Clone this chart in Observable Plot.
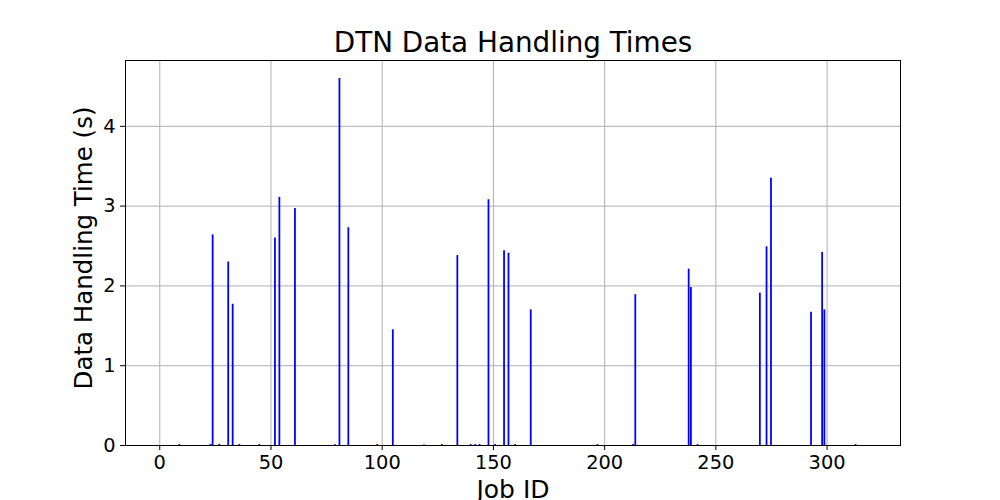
<!DOCTYPE html>
<html><head>
<meta charset="utf-8">
<script src="https://cdn.jsdelivr.net/npm/d3@7"></script>
<script src="https://cdn.jsdelivr.net/npm/@observablehq/plot@0.6"></script>
<style>
body{margin:0;background:#fff}
svg{font-family:"DejaVu Sans",sans-serif}
</style>
</head><body><div id="chart"></div>
<script>
const jobIds = [9, 23, 24, 27, 31, 33, 36, 45, 52, 54, 61, 79, 81, 85, 98, 105, 119, 127, 134, 140, 142, 144, 148, 151, 155, 157, 160, 167, 197, 213, 214, 238, 239, 242, 270, 273, 275, 293, 298, 299, 313];
const handlingTimes = [0.012, 0.015, 2.64, 0.015, 2.30, 1.77, 0.012, 0.012, 2.60, 3.11, 2.97, 0.01, 4.60, 2.73, 0.012, 1.45, 0.006, 0.012, 2.38, 0.012, 0.012, 0.012, 3.08, 0.012, 2.44, 2.41, 0.012, 1.70, 0.012, 0.012, 1.89, 2.21, 1.98, 0.012, 1.91, 2.49, 3.35, 1.67, 2.42, 1.70, 0.012];
const xTicks = [0, 50, 100, 150, 200, 250, 300];
const yTicks = [0, 1, 2, 3, 4];
const titleText = "DTN Data Handling Times";
const xLabel = "Job ID";
const yLabel = "Data Handling Time (s)";
const barWidth = 0.8;

const data = jobIds.map((id, i) => ({id, t: handlingTimes[i]}));

const chart = Plot.plot({
  width: 1000,
  height: 500,
  marginLeft: 125,
  marginRight: 100,
  marginTop: 60,
  marginBottom: 55,
  style: {fontFamily: "DejaVu Sans", fontSize: "19.4px", background: "white", color: "black"},
  x: {domain: [-15.4, 333], label: null},
  y: {domain: [0, 4.825], label: null},
  marks: [
    Plot.gridX(xTicks, {stroke: "#b0b0b0", strokeOpacity: 1, strokeWidth: 1}),
    Plot.gridY(yTicks, {stroke: "#b0b0b0", strokeOpacity: 1, strokeWidth: 1}),
    Plot.rectY(data, {x1: d => d.id - barWidth / 2, x2: d => d.id + barWidth / 2, y1: 0, y2: "t", fill: "blue", inset: 0}),
    Plot.frame({stroke: "black", strokeWidth: 1}),
    Plot.axisX(xTicks, {tickSize: 5, tickPadding: 5, fontSize: 19.4, label: null, stroke: "black", tickFormat: d3.format("d")}),
    Plot.axisY(yTicks, {tickSize: 5, tickPadding: 5, fontSize: 19.4, label: null, stroke: "black", tickFormat: d3.format("d")}),
    Plot.text([titleText], {frameAnchor: "top", dy: -17, fontSize: 27.8, lineAnchor: "middle", fill: "black"}),
    Plot.text([xLabel], {frameAnchor: "bottom", dy: 44, fontSize: 25, lineAnchor: "middle", fill: "black"}),
    Plot.text([yLabel], {frameAnchor: "left", dx: -41, dy: -5, rotate: -90, fontSize: 24.5, textAnchor: "middle", lineAnchor: "middle", fill: "black"})
  ]
});
document.getElementById("chart").append(chart);
</script>
</body></html>
